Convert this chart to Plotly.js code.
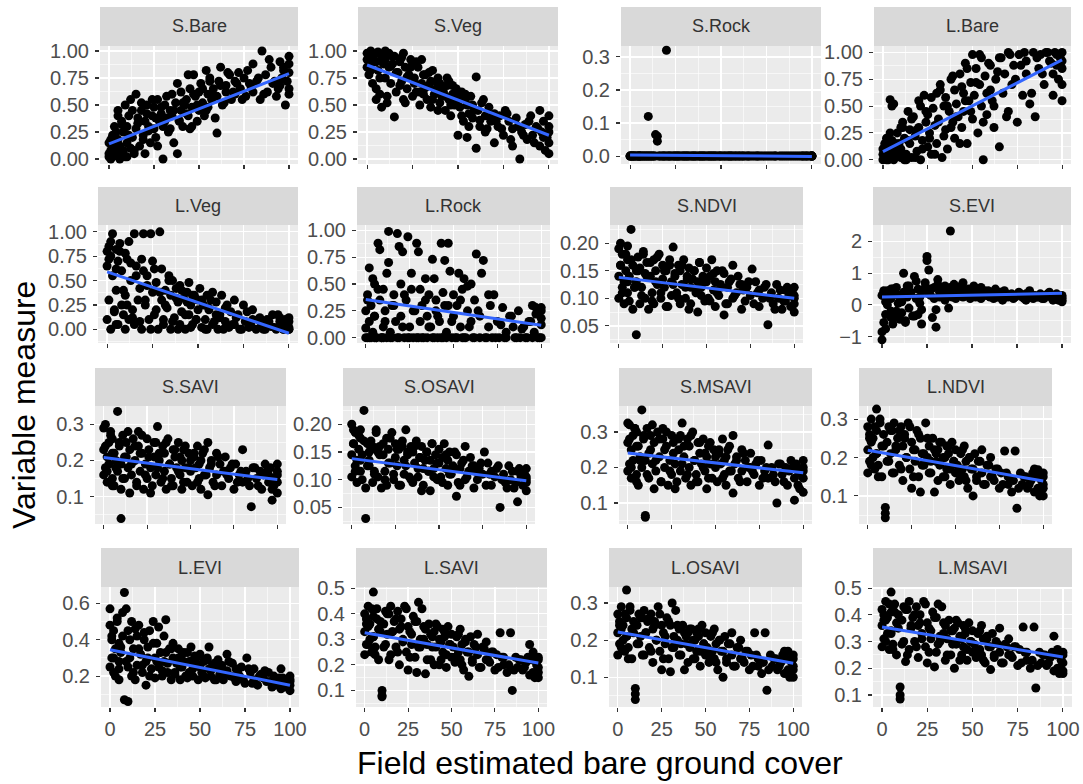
<!DOCTYPE html>
<html>
<head>
<meta charset="utf-8">
<script src="https://cdn.plot.ly/plotly-3.0.1.min.js"></script>
<style>html,body{margin:0;padding:0;background:#fff;}#chart{width:1083px;height:784px;}</style>
</head>
<body>
<div id="chart"></div>
<script>
// Field estimated bare ground cover (shared x for every facet)
const bareCover = [
0,0,0,1,1,2,2,3,3,4,
5,5,5,6,7,8,8,9,10,10,
10,11,12,12,13,14,15,15,16,17,
18,19,20,20,21,22,23,24,25,25,
26,27,28,29,30,30,31,32,33,34,
35,35,36,37,38,39,40,40,41,42,
43,44,45,45,46,47,48,49,50,50,
51,52,53,54,55,55,56,57,58,60,
60,61,62,63,65,65,67,68,70,70,
72,73,75,76,78,80,80,82,84,85,
87,88,90,91,93,95,95,96,97,98,
99,100,100,100,100,100,
1,2,4,5,6,7,9,11,13,14,
16,18,19,21,22,24,26,27,29,31,
32,34,36,38,39,41,43,44,46,47,
49,52,54,56,58,59,62,64,66,69,
71,74,77,79,83,86,89,92,94,97];

const facetNames = ['S.Bare','S.Veg','S.Rock','L.Bare','L.Veg','L.Rock','S.NDVI','S.EVI',
  'S.SAVI','S.OSAVI','S.MSAVI','L.NDVI','L.EVI','L.SAVI','L.OSAVI','L.MSAVI'];

const sBare = [
0.05,0.02,0.15,0.08,0.00,0.22,0.10,0.03,0.30,0.12,
0.05,0.45,0.18,0.00,0.35,0.25,0.08,0.50,0.15,0.02,
0.30,0.40,0.10,0.55,0.20,0.05,0.60,0.28,0.38,0.12,
0.45,0.22,0.35,0.05,0.50,0.30,0.15,0.40,0.28,0.48,
0.20,0.55,0.35,0.42,0.00,0.30,0.50,0.38,0.25,0.45,
0.60,0.40,0.15,0.52,0.05,0.35,0.45,0.62,0.30,0.50,
0.55,0.40,0.65,0.28,0.48,0.78,0.58,0.35,0.62,0.45,
0.70,0.52,0.40,0.82,0.60,0.48,0.75,0.55,0.65,0.24,
0.58,0.72,0.85,0.50,0.68,0.62,0.78,0.55,0.72,0.60,
0.80,0.65,0.75,0.58,0.70,0.62,0.88,0.72,0.55,1.00,
0.78,0.62,0.85,0.70,0.58,0.90,0.68,0.75,0.82,0.50,
0.72,0.95,0.60,0.88,0.80,0.65,
0.18,0.06,0.25,0.40,0.12,0.32,0.02,0.22,0.45,0.08,
0.33,0.52,0.18,0.42,0.26,0.55,0.38,0.12,0.48,0.35,
0.58,0.28,0.45,0.70,0.36,0.52,0.42,0.78,0.30,0.60,
0.50,0.65,0.45,0.72,0.58,0.38,0.68,0.52,0.80,0.62,
0.70,0.55,0.82,0.66,0.75,0.60,0.92,0.72,0.65,0.85];
const sVeg = [
0.92,0.98,0.85,0.95,0.78,1.00,0.88,0.93,0.70,0.97,
0.55,0.90,0.98,0.82,0.60,0.95,0.48,0.88,0.75,1.00,
0.92,0.52,0.85,0.98,0.70,0.88,0.39,0.95,0.62,0.80,
0.90,0.72,0.55,0.98,0.85,0.65,0.78,0.92,0.58,0.88,
0.75,0.62,0.85,0.50,0.70,0.92,0.60,0.78,0.55,0.68,
0.72,0.48,0.82,0.60,0.65,0.75,0.52,0.70,0.58,0.62,
0.45,0.68,0.55,0.72,0.40,0.60,0.50,0.65,0.22,0.58,
0.48,0.62,0.35,0.55,0.20,0.50,0.42,0.58,0.38,0.76,
0.10,0.45,0.30,0.52,0.40,0.25,0.48,0.35,0.15,0.42,
0.30,0.40,0.22,0.45,0.35,0.12,0.28,0.38,0.00,0.25,
0.32,0.18,0.40,0.22,0.30,0.12,0.45,0.25,0.35,0.08,
0.20,0.30,0.05,0.15,0.40,0.25,
0.96,0.82,0.90,0.65,0.99,0.75,0.92,0.58,0.86,0.95,
0.80,0.68,0.94,0.52,0.76,0.85,0.70,0.90,0.62,0.78,
0.66,0.80,0.55,0.72,0.45,0.64,0.58,0.75,0.50,0.68,
0.52,0.40,0.60,0.30,0.50,0.45,0.36,0.55,0.28,0.40,
0.35,0.28,0.42,0.18,0.30,0.22,0.35,0.15,0.28,0.20];
const sRock = [
0,0,0,0,0,0,0,0,0,0,
0,0,0,0,0,0,0,0,0.12,0,
0,0,0,0,0,0.065,0.06,0.045,0,0,
0,0,0.32,0,0,0,0,0,0,0,
0,0,0,0,0,0,0,0,0,0,
0,0,0,0,0,0,0,0,0,0,
0,0,0,0,0,0,0,0,0,0,
0,0,0,0,0,0,0,0,0,0,
0,0,0,0,0,0,0,0,0,0,
0,0,0,0,0,0,0,0,0,0,
0,0,0,0,0,0,0,0,0,0,
0,0,0,0,0,0,
0,0,0,0,0,0,0,0,0,0,
0,0,0,0,0,0,0,0,0,0,
0,0,0,0,0,0,0,0,0,0,
0,0,0,0,0,0,0,0,0,0,
0,0,0,0,0,0,0,0,0,0];
const lBare = [
0.05,0.10,0.00,0.15,0.02,0.08,0.20,0.00,0.12,0.56,
0.03,0.50,0.18,0.00,0.10,0.25,0.05,0.15,0.30,0.02,
0.10,0.35,0.00,0.20,0.05,0.45,0.15,0.28,0.02,0.40,
0.22,0.08,0.55,0.30,0.00,0.18,0.60,0.35,0.12,0.42,
0.25,0.05,0.48,0.32,0.62,0.15,0.38,0.70,0.02,0.50,
0.28,0.58,0.10,0.45,0.75,0.35,0.20,0.65,0.52,0.40,
0.80,0.30,0.62,0.45,0.90,0.15,0.55,0.72,0.98,0.38,
0.60,0.85,0.25,0.70,0.50,0.95,0.00,0.78,0.42,0.65,
0.88,0.55,0.30,0.75,0.12,0.95,0.62,0.80,0.45,1.00,
0.70,0.88,0.35,0.98,0.60,0.80,0.92,0.52,1.00,0.40,
0.85,0.98,0.70,1.00,0.92,0.60,0.80,1.00,0.88,0.75,
0.95,0.55,1.00,0.85,0.92,0.70,
0.12,0.00,0.25,0.05,0.52,0.15,0.08,0.30,0.00,0.18,
0.38,0.02,0.28,0.50,0.10,0.45,0.20,0.58,0.05,0.35,
0.65,0.22,0.50,0.30,0.78,0.40,0.15,0.68,0.55,0.85,
0.45,0.72,0.98,0.35,0.62,0.90,0.50,0.82,0.95,0.40,
0.98,0.75,0.88,1.00,0.62,0.95,0.80,1.00,0.90,0.98];
const lVeg = [
0.80,0.65,0.10,0.85,0.30,0.75,0.00,0.98,0.55,0.20,
0.82,0.40,0.05,0.70,0.88,0.25,0.60,0.15,0.78,0.00,
0.35,0.72,0.10,0.90,0.50,0.20,0.98,0.05,0.65,0.30,
0.42,0.00,0.60,0.98,0.25,0.55,0.10,0.98,0.38,0.70,
0.15,0.48,0.00,1.00,0.30,0.62,0.05,0.40,0.22,0.55,
0.35,0.00,0.50,0.12,0.42,0.28,0.05,0.45,0.18,0.32,
0.00,0.38,0.15,0.48,0.25,0.05,0.35,0.10,0.30,0.20,
0.42,0.02,0.25,0.10,0.35,0.00,0.20,0.30,0.05,0.15,
0.28,0.00,0.12,0.35,0.08,0.22,0.02,0.18,0.30,0.05,
0.15,0.00,0.25,0.08,0.02,0.20,0.10,0.00,0.12,0.05,
0.00,0.10,0.03,0.15,0.00,0.08,0.12,0.02,0.00,0.10,
0.05,0.00,0.12,0.02,0.08,0.00,
0.72,0.90,0.18,0.62,0.05,0.80,0.40,0.25,0.68,0.12,
0.55,0.08,0.72,0.30,0.45,0.00,0.62,0.20,0.38,0.10,
0.25,0.50,0.08,0.32,0.00,0.40,0.15,0.28,0.02,0.35,
0.10,0.30,0.00,0.22,0.38,0.08,0.15,0.00,0.25,0.05,
0.12,0.00,0.18,0.05,0.10,0.00,0.08,0.02,0.15,0.00];
const lRock = [
0.00,0.25,0.09,0.40,0.00,0.15,0.65,0.00,0.30,0.05,
0.00,0.20,0.50,0.00,0.88,0.82,0.35,0.00,0.10,0.45,
0.00,0.25,0.00,0.60,0.99,0.05,0.30,0.00,0.40,0.15,
0.97,0.00,0.20,0.50,0.80,0.00,0.35,0.94,0.10,0.00,
0.45,0.00,0.25,0.88,0.80,0.00,0.15,0.30,0.00,0.55,
0.20,0.00,0.40,0.10,0.73,0.00,0.25,0.35,0.00,0.15,
0.88,0.00,0.72,0.30,0.05,0.88,0.62,0.00,0.20,0.40,
0.00,0.30,0.60,0.10,0.00,0.45,0.55,0.00,0.25,0.15,
0.50,0.00,0.35,0.78,0.00,0.20,0.72,0.00,0.40,0.10,
0.00,0.40,0.15,0.00,0.28,0.05,0.00,0.20,0.10,0.00,
0.25,0.00,0.10,0.00,0.15,0.00,0.30,0.05,0.22,0.00,
0.00,0.18,0.28,0.00,0.12,0.25,
0.35,0.00,0.55,0.20,0.00,0.45,0.00,0.15,0.70,0.00,
0.30,0.00,0.85,0.10,0.40,0.00,0.60,0.25,0.00,0.45,
0.00,0.35,0.10,0.00,0.55,0.20,0.00,0.42,0.00,0.30,
0.15,0.00,0.35,0.00,0.48,0.10,0.00,0.25,0.60,0.00,
0.30,0.00,0.12,0.00,0.20,0.00,0.08,0.00,0.15,0.28];
const sNDVI = [
0.19,0.14,0.10,0.20,0.16,0.12,0.18,0.13,0.09,0.15,
0.17,0.11,0.195,0.14,0.225,0.08,0.16,0.12,0.034,0.15,
0.13,0.175,0.09,0.155,0.12,0.18,0.10,0.145,0.165,0.08,
0.14,0.11,0.17,0.09,0.15,0.125,0.18,0.10,0.135,0.16,
0.12,0.15,0.085,0.17,0.13,0.105,0.193,0.14,0.11,0.16,
0.09,0.15,0.125,0.17,0.10,0.14,0.08,0.155,0.12,0.135,
0.15,0.11,0.13,0.075,0.165,0.12,0.14,0.095,0.13,0.155,
0.10,0.14,0.17,0.115,0.085,0.13,0.15,0.105,0.125,0.07,
0.145,0.09,0.12,0.13,0.10,0.16,0.11,0.14,0.08,0.125,
0.095,0.12,0.105,0.153,0.13,0.085,0.115,0.10,0.125,0.052,
0.11,0.09,0.125,0.10,0.08,0.115,0.095,0.12,0.105,0.085,
0.11,0.09,0.12,0.075,0.10,0.105,
0.16,0.11,0.18,0.13,0.095,0.17,0.12,0.15,0.105,0.185,
0.14,0.165,0.095,0.13,0.175,0.11,0.15,0.085,0.16,0.125,
0.145,0.10,0.16,0.12,0.135,0.09,0.15,0.115,0.165,0.105,
0.13,0.095,0.145,0.11,0.12,0.15,0.09,0.135,0.105,0.125,
0.115,0.13,0.09,0.11,0.12,0.10,0.08,0.115,0.095,0.11];
const sEVI = [
-1.10,-0.85,0.30,-0.55,0.40,0.10,-0.30,0.45,0.00,0.25,
-0.40,0.50,0.20,-0.60,0.35,-0.20,0.55,0.05,-0.45,0.30,
0.15,-0.25,1.00,0.40,-0.50,0.25,-0.10,0.60,0.35,-0.35,
0.90,0.20,-0.30,0.50,0.05,-0.60,0.45,0.70,1.53,1.40,
1.10,0.30,-0.40,0.55,-0.70,-0.15,0.80,0.25,0.50,0.40,
0.60,0.15,0.35,-0.10,2.33,0.45,0.30,0.65,0.20,0.50,
0.35,0.55,0.25,0.70,0.40,0.30,0.50,0.20,0.45,0.35,
0.60,0.25,0.40,0.30,0.55,0.20,0.35,0.45,0.30,0.25,
0.40,0.30,0.20,0.50,0.25,0.35,0.15,0.45,0.30,0.25,
0.35,0.20,0.30,0.40,0.25,0.15,0.35,0.45,0.20,0.30,
0.25,0.35,0.20,0.30,0.40,0.15,0.25,0.20,0.35,0.15,
0.25,0.10,0.30,0.20,0.15,0.25,
0.45,-0.75,0.20,-0.20,0.50,-0.40,0.30,0.10,-0.55,0.60,
0.40,-0.35,0.75,0.25,-0.15,0.55,0.35,0.50,0.20,0.65,
0.40,0.50,0.30,0.55,0.25,0.45,0.35,0.60,0.30,0.40,
0.35,0.50,0.25,0.40,0.30,0.45,0.30,0.25,0.40,0.35,
0.30,0.25,0.35,0.20,0.30,0.25,0.20,0.35,0.25,0.20];
const sSAVI = [
0.29,0.23,0.16,0.30,0.18,0.21,0.14,0.25,0.19,0.28,
0.15,0.22,0.26,0.13,0.20,0.336,0.17,0.24,0.039,0.19,
0.12,0.27,0.21,0.15,0.25,0.18,0.11,0.23,0.16,0.26,
0.20,0.14,0.24,0.28,0.17,0.22,0.12,0.19,0.26,0.15,
0.23,0.18,0.13,0.21,0.25,0.16,0.294,0.20,0.14,0.24,
0.17,0.22,0.12,0.26,0.19,0.15,0.23,0.13,0.21,0.18,
0.25,0.16,0.20,0.12,0.23,0.18,0.14,0.22,0.17,0.20,
0.13,0.21,0.18,0.24,0.15,0.19,0.12,0.22,0.16,0.25,
0.105,0.18,0.20,0.14,0.22,0.16,0.19,0.13,0.17,0.21,
0.15,0.18,0.12,0.19,0.16,0.23,0.14,0.17,0.13,0.072,
0.18,0.15,0.17,0.12,0.19,0.14,0.16,0.18,0.09,0.13,
0.15,0.17,0.11,0.19,0.14,0.16,
0.24,0.17,0.27,0.13,0.22,0.18,0.25,0.15,0.21,0.28,
0.19,0.24,0.13,0.22,0.27,0.16,0.21,0.11,0.25,0.18,
0.22,0.15,0.25,0.19,0.13,0.23,0.17,0.21,0.14,0.24,
0.18,0.22,0.14,0.20,0.23,0.16,0.19,0.13,0.21,0.17,
0.16,0.19,0.14,0.17,0.15,0.18,0.13,0.16,0.17,0.12];
const sOSAVI = [
0.20,0.145,0.105,0.19,0.165,0.125,0.185,0.135,0.095,0.155,
0.175,0.115,0.19,0.145,0.225,0.03,0.085,0.165,0.125,0.15,
0.135,0.17,0.095,0.16,0.115,0.185,0.105,0.15,0.16,0.085,
0.145,0.115,0.175,0.09,0.155,0.13,0.185,0.10,0.14,0.165,
0.125,0.155,0.09,0.17,0.135,0.11,0.19,0.145,0.105,0.16,
0.095,0.15,0.13,0.17,0.105,0.14,0.08,0.16,0.12,0.135,
0.15,0.115,0.135,0.08,0.165,0.12,0.145,0.10,0.13,0.155,
0.105,0.14,0.165,0.12,0.09,0.135,0.15,0.11,0.125,0.07,
0.145,0.095,0.12,0.13,0.10,0.16,0.115,0.14,0.085,0.125,
0.10,0.12,0.11,0.15,0.13,0.09,0.115,0.105,0.125,0.05,
0.11,0.095,0.125,0.10,0.085,0.115,0.06,0.12,0.105,0.09,
0.11,0.095,0.12,0.08,0.10,0.105,
0.165,0.115,0.18,0.135,0.10,0.17,0.125,0.155,0.11,0.19,
0.145,0.165,0.10,0.13,0.175,0.11,0.155,0.09,0.16,0.125,
0.15,0.10,0.16,0.12,0.14,0.09,0.15,0.115,0.165,0.105,
0.13,0.095,0.145,0.11,0.12,0.15,0.09,0.135,0.105,0.125,
0.115,0.13,0.09,0.11,0.12,0.10,0.085,0.115,0.095,0.11];
const sMSAVI = [
0.325,0.27,0.19,0.32,0.21,0.25,0.17,0.29,0.22,0.31,
0.18,0.26,0.30,0.15,0.23,0.362,0.20,0.28,0.06,0.065,
0.22,0.31,0.24,0.17,0.29,0.21,0.14,0.27,0.19,0.30,
0.23,0.16,0.28,0.31,0.20,0.26,0.15,0.22,0.29,0.18,
0.27,0.21,0.16,0.25,0.29,0.19,0.325,0.23,0.17,0.28,
0.20,0.26,0.15,0.30,0.22,0.18,0.27,0.16,0.24,0.21,
0.28,0.19,0.23,0.14,0.26,0.21,0.17,0.25,0.20,0.23,
0.16,0.24,0.21,0.28,0.18,0.22,0.15,0.25,0.19,0.128,
0.29,0.21,0.23,0.17,0.25,0.19,0.22,0.16,0.20,0.24,
0.18,0.21,0.15,0.22,0.19,0.263,0.17,0.20,0.16,0.10,
0.21,0.18,0.20,0.15,0.22,0.17,0.108,0.21,0.19,0.14,
0.18,0.20,0.13,0.22,0.17,0.19,
0.28,0.20,0.31,0.16,0.26,0.22,0.29,0.18,0.25,0.32,
0.22,0.28,0.16,0.25,0.30,0.19,0.24,0.14,0.28,0.21,
0.26,0.18,0.29,0.22,0.16,0.27,0.20,0.24,0.17,0.27,
0.21,0.25,0.17,0.23,0.26,0.19,0.22,0.16,0.24,0.20,
0.19,0.22,0.17,0.20,0.18,0.21,0.16,0.19,0.20,0.15];
const lNDVI = [
0.28,0.22,0.16,0.26,0.19,0.24,0.30,0.20,0.25,0.17,
0.27,0.326,0.21,0.18,0.29,0.23,0.15,0.26,0.07,0.055,
0.043,0.24,0.28,0.19,0.21,0.27,0.16,0.29,0.22,0.25,
0.18,0.28,0.23,0.14,0.26,0.20,0.29,0.17,0.24,0.12,
0.22,0.19,0.27,0.15,0.11,0.25,0.21,0.18,0.29,0.20,
0.16,0.23,0.19,0.25,0.11,0.21,0.14,0.22,0.18,0.24,
0.20,0.15,0.23,0.17,0.21,0.13,0.24,0.19,0.16,0.22,
0.18,0.14,0.21,0.17,0.23,0.15,0.19,0.12,0.20,0.10,
0.17,0.21,0.14,0.19,0.16,0.22,0.13,0.18,0.15,0.20,
0.14,0.17,0.12,0.16,0.217,0.13,0.15,0.11,0.217,0.068,
0.16,0.13,0.15,0.12,0.14,0.17,0.11,0.15,0.168,0.10,
0.14,0.12,0.15,0.10,0.13,0.16,
0.25,0.18,0.28,0.21,0.15,0.30,0.23,0.19,0.27,0.16,
0.23,0.27,0.17,0.25,0.20,0.28,0.15,0.22,0.26,0.18,
0.21,0.25,0.16,0.22,0.19,0.24,0.15,0.20,0.23,0.17,
0.19,0.16,0.22,0.14,0.20,0.17,0.15,0.19,0.13,0.18,
0.15,0.17,0.13,0.16,0.14,0.12,0.15,0.13,0.16,0.12];
const lEVI = [
0.48,0.57,0.25,0.40,0.30,0.22,0.45,0.35,0.20,0.52,
0.28,0.38,0.18,0.33,0.42,0.66,0.07,0.57,0.06,0.25,
0.45,0.30,0.20,0.50,0.35,0.18,0.42,0.26,0.48,0.32,
0.22,0.40,0.28,0.15,0.36,0.45,0.24,0.50,0.30,0.19,
0.38,0.25,0.33,0.20,0.42,0.28,0.51,0.22,0.35,0.18,
0.30,0.38,0.22,0.27,0.35,0.18,0.32,0.25,0.28,0.20,
0.33,0.22,0.28,0.36,0.20,0.26,0.30,0.18,0.25,0.32,
0.22,0.28,0.19,0.30,0.24,0.36,0.20,0.26,0.18,0.25,
0.29,0.21,0.26,0.18,0.32,0.23,0.20,0.27,0.17,0.24,
0.20,0.25,0.16,0.30,0.22,0.18,0.24,0.15,0.21,0.19,
0.17,0.22,0.14,0.20,0.16,0.24,0.13,0.19,0.15,0.18,
0.14,0.18,0.12,0.20,0.15,0.17,
0.42,0.30,0.50,0.24,0.36,0.55,0.28,0.40,0.22,0.46,
0.35,0.26,0.44,0.30,0.20,0.38,0.28,0.47,0.23,0.33,
0.27,0.35,0.21,0.30,0.25,0.33,0.19,0.28,0.24,0.31,
0.26,0.20,0.29,0.23,0.27,0.18,0.25,0.21,0.28,0.19,
0.22,0.18,0.24,0.16,0.20,0.23,0.17,0.15,0.19,0.14];
const lSAVI = [
0.40,0.33,0.24,0.38,0.28,0.35,0.43,0.30,0.36,0.25,
0.39,0.485,0.31,0.27,0.42,0.34,0.22,0.37,0.10,0.08,
0.075,0.36,0.41,0.28,0.32,0.40,0.24,0.43,0.33,0.37,
0.27,0.41,0.34,0.20,0.38,0.30,0.43,0.25,0.35,0.18,
0.33,0.28,0.39,0.23,0.17,0.37,0.445,0.27,0.42,0.30,
0.165,0.34,0.28,0.36,0.22,0.31,0.20,0.33,0.27,0.35,
0.30,0.22,0.34,0.25,0.31,0.19,0.35,0.28,0.23,0.32,
0.27,0.21,0.31,0.25,0.34,0.22,0.28,0.18,0.30,0.155,
0.25,0.31,0.21,0.28,0.24,0.32,0.19,0.27,0.22,0.29,
0.21,0.25,0.18,0.24,0.326,0.20,0.23,0.17,0.326,0.10,
0.23,0.19,0.22,0.18,0.21,0.28,0.16,0.22,0.25,0.15,
0.20,0.17,0.23,0.15,0.19,0.22,
0.36,0.28,0.42,0.31,0.24,0.38,0.33,0.27,0.40,0.22,
0.33,0.38,0.25,0.35,0.29,0.42,0.23,0.32,0.37,0.27,
0.30,0.35,0.22,0.32,0.27,0.36,0.20,0.29,0.33,0.24,
0.28,0.23,0.32,0.20,0.29,0.25,0.22,0.27,0.19,0.26,
0.22,0.25,0.19,0.23,0.20,0.18,0.22,0.19,0.23,0.17];
const lOSAVI = [
0.27,0.22,0.16,0.25,0.19,0.23,0.29,0.20,0.24,0.17,
0.26,0.335,0.21,0.18,0.28,0.23,0.15,0.25,0.07,0.055,
0.04,0.24,0.27,0.19,0.21,0.26,0.16,0.28,0.22,0.25,
0.18,0.27,0.23,0.14,0.25,0.20,0.29,0.17,0.24,0.12,
0.22,0.19,0.26,0.15,0.115,0.24,0.30,0.18,0.28,0.20,
0.16,0.23,0.19,0.24,0.12,0.21,0.14,0.22,0.18,0.23,
0.20,0.15,0.22,0.17,0.21,0.13,0.24,0.19,0.16,0.22,
0.18,0.14,0.21,0.17,0.23,0.15,0.19,0.12,0.20,0.10,
0.17,0.21,0.14,0.19,0.16,0.22,0.13,0.18,0.15,0.20,
0.14,0.17,0.12,0.16,0.22,0.13,0.15,0.11,0.22,0.065,
0.16,0.13,0.15,0.12,0.14,0.17,0.11,0.15,0.17,0.10,
0.14,0.12,0.15,0.10,0.13,0.16,
0.24,0.18,0.27,0.21,0.15,0.29,0.22,0.19,0.26,0.16,
0.22,0.26,0.17,0.24,0.20,0.27,0.15,0.21,0.25,0.18,
0.21,0.24,0.16,0.22,0.19,0.23,0.15,0.20,0.23,0.17,
0.19,0.16,0.22,0.14,0.20,0.17,0.15,0.19,0.13,0.18,
0.15,0.17,0.13,0.16,0.14,0.12,0.15,0.13,0.16,0.12];
const lMSAVI = [
0.42,0.36,0.28,0.40,0.31,0.38,0.45,0.33,0.39,0.27,
0.41,0.485,0.34,0.29,0.44,0.37,0.25,0.40,0.13,0.10,
0.085,0.38,0.43,0.30,0.225,0.42,0.27,0.45,0.35,0.39,
0.30,0.43,0.36,0.24,0.40,0.33,0.45,0.28,0.37,0.22,
0.35,0.31,0.41,0.205,0.26,0.39,0.44,0.30,0.43,0.33,
0.23,0.36,0.31,0.38,0.25,0.34,0.20,0.35,0.29,0.37,
0.32,0.25,0.36,0.28,0.33,0.23,0.37,0.30,0.26,0.34,
0.29,0.24,0.33,0.27,0.36,0.25,0.31,0.22,0.32,0.195,
0.28,0.33,0.24,0.30,0.26,0.35,0.22,0.29,0.25,0.31,
0.24,0.28,0.21,0.27,0.354,0.23,0.26,0.20,0.354,0.126,
0.26,0.22,0.25,0.21,0.24,0.32,0.19,0.25,0.27,0.18,
0.23,0.19,0.26,0.18,0.22,0.25,
0.38,0.30,0.44,0.33,0.27,0.41,0.35,0.29,0.42,0.25,
0.36,0.40,0.28,0.37,0.31,0.44,0.26,0.34,0.39,0.29,
0.32,0.37,0.25,0.34,0.29,0.38,0.23,0.31,0.35,0.27,
0.30,0.26,0.34,0.23,0.31,0.28,0.25,0.29,0.22,0.28,
0.25,0.28,0.22,0.26,0.23,0.21,0.25,0.22,0.26,0.20];

// Fitted linear trend: value at x = 0 and at x = 100
const fitX = [0, 100];
const fitAt0   = [0.14, 0.87, 0.003, 0.075, 0.59, 0.355, 0.138, 0.25, 0.208, 0.138, 0.241, 0.219, 0.345, 0.326, 0.222, 0.354];
const fitAt100 = [0.79, 0.22, -0.001, 0.93, -0.04, 0.115, 0.100, 0.37, 0.147, 0.098, 0.185, 0.139, 0.150, 0.207, 0.138, 0.242];

const xTicks = [0, 25, 50, 75, 100];

const series = [sBare, sVeg, sRock, lBare, lVeg, lRock, sNDVI, sEVI, sSAVI, sOSAVI, sMSAVI, lNDVI, lEVI, lSAVI, lOSAVI, lMSAVI];

// ---- layout (pixel boxes of each panel: left, right, top, bottom) ----
const W = 1083, H = 784;
const boxes = [
  [100,298,46,164],[358,558,46,164],[621,821,46,164],[874,1071,46,164],
  [98,298,225,343],[357,550,225,343],[610,803,225,343],[873,1071,225,343],
  [95,286,406,524],[343,535,406,524],[619,812,406,524],[859,1052,406,524],
  [101,299,587,707],[356,547,587,707],[609,802,587,707],[873,1072,587,707]
];
const stripTop = [7, 187, 368, 548];
const yRanges = [
  [-0.046,1.046],[-0.046,1.046],[-0.024,0.333],[-0.04,1.06],
  [-0.14,1.07],[-0.05,1.05],[0.019,0.233],[-1.2,2.52],
  [0.024,0.351],[0.02,0.233],[0.041,0.373],[0.027,0.334],
  [0.03,0.69],[0.035,0.505],[0.02,0.343],[0.055,0.504]
];
const yDtick = [0.25,0.25,0.1,0.25, 0.25,0.25,0.05,1, 0.1,0.05,0.1,0.1, 0.2,0.1,0.1,0.1];
const yFormat = ['.2f','.2f','.1f','.2f','.2f','.2f','.2f','d','.1f','.2f','.1f','.1f','.1f','.1f','.1f','.1f'];

const traces = [];
const layout = {
  width: W, height: H,
  margin: {l:0, r:0, t:0, b:0},
  paper_bgcolor: '#ffffff',
  plot_bgcolor: '#EBEBEB',
  showlegend: false,
  shapes: [], annotations: [],
  font: {family: 'Liberation Sans, Arial, sans-serif'}
};

for (let i = 0; i < 16; i++) {
  const k = i === 0 ? '' : String(i + 1);
  const [l, r, t, b] = boxes[i];
  const row = Math.floor(i / 4);
  traces.push({
    type: 'scatter', mode: 'markers', x: bareCover, y: series[i],
    xaxis: 'x' + k, yaxis: 'y' + k,
    marker: {color: '#000000', size: 9}, hoverinfo: 'x+y', cliponaxis: false
  });
  traces.push({
    type: 'scatter', mode: 'lines', x: fitX, y: [fitAt0[i], fitAt100[i]],
    xaxis: 'x' + k, yaxis: 'y' + k,
    line: {color: '#3366FF', width: 3}
  });
  const common = {
    showgrid: true, gridcolor: '#FFFFFF', gridwidth: 1.3,
    zeroline: false, showline: false,
    ticks: 'outside', ticklen: 4, tickwidth: 1.1, tickcolor: '#333333',
    tickfont: {size: 20, color: '#4D4D4D', family: 'Liberation Sans, Arial, sans-serif'},
    fixedrange: true
  };
  layout['xaxis' + k] = Object.assign({}, common, {
    domain: [l / W, r / W], anchor: 'y' + k,
    range: [-5, 105], tickmode: 'array', tickvals: xTicks, ticktext: xTicks.map(String),
    showticklabels: row === 3,
    minor: {tickmode: 'array', tickvals: [12.5, 37.5, 62.5, 87.5], showgrid: true, gridcolor: '#FFFFFF', gridwidth: 0.6}
  });
  layout['yaxis' + k] = Object.assign({}, common, {
    domain: [1 - b / H, 1 - t / H], anchor: 'x' + k,
    range: yRanges[i], tickmode: 'linear', tick0: 0, dtick: yDtick[i], tickformat: yFormat[i],
    ticklabelstandoff: 2,
    minor: {tick0: yDtick[i] / 2, dtick: yDtick[i], showgrid: true, gridcolor: '#FFFFFF', gridwidth: 0.6}
  });
  // facet strip
  layout.shapes.push({
    type: 'rect', xref: 'paper', yref: 'paper', layer: 'below',
    x0: l / W, x1: r / W, y0: 1 - t / H, y1: 1 - stripTop[row] / H,
    fillcolor: '#D9D9D9', line: {width: 0}
  });
  layout.annotations.push({
    xref: 'paper', yref: 'paper', x: (l + r) / 2 / W, y: 1 - (stripTop[row] + t) / 2 / H,
    xanchor: 'center', yanchor: 'middle', showarrow: false,
    text: facetNames[i], font: {size: 18, color: '#333333', family: 'Liberation Sans, Arial, sans-serif'}
  });
}

layout.annotations.push({
  xref: 'paper', yref: 'paper', x: 600 / W, y: 1 - 763 / H, xanchor: 'center', yanchor: 'middle',
  showarrow: false, text: 'Field estimated bare ground cover',
  font: {size: 32, color: '#000000', family: 'Liberation Sans, Arial, sans-serif'}
});
layout.annotations.push({
  xref: 'paper', yref: 'paper', x: 24 / W, y: 1 - 405 / H, xanchor: 'center', yanchor: 'middle',
  showarrow: false, textangle: -90, text: 'Variable measure',
  font: {size: 32, color: '#000000', family: 'Liberation Sans, Arial, sans-serif'}
});

Plotly.newPlot('chart', traces, layout, {displayModeBar: false, staticPlot: true});
</script>
</body>
</html>
